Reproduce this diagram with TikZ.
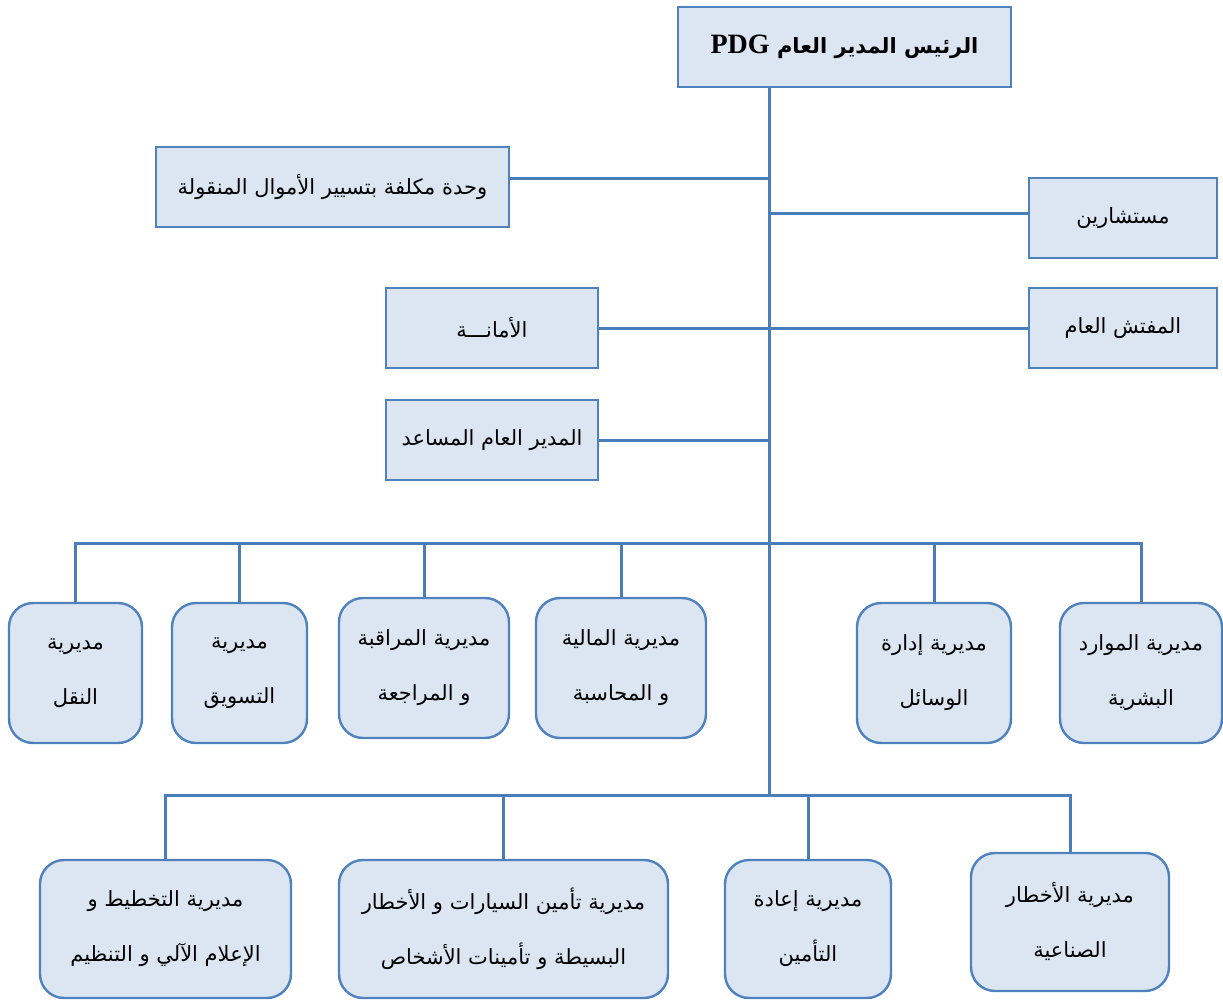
\documentclass[tikz,border=0pt]{standalone}
\usepackage{fontspec}
\usetikzlibrary{calc}
\TeXXeTstate=1
\newfontfamily\arabicfont[Script=Arabic]{DejaVu Sans}
\newfontfamily\latinfont{Liberation Serif}
\newcommand{\artxt}[1]{\beginR #1\endR}
\definecolor{boxfill}{HTML}{DCE6F2}
\definecolor{boxline}{HTML}{4F81BD}
\definecolor{wire}{HTML}{4A7EBB}

\begin{document}
\begin{tikzpicture}[x=0.5pt,y=-0.5pt,
    box/.style={draw=boxline,fill=boxfill,line width=1.2pt,inner sep=0pt,
        minimum height=40pt,align=center,
        font={\arabicfont\fontsize{10.5}{27.5}\selectfont}},
    dept/.style={box,rounded corners=12pt,minimum height=70pt},
    wires/.style={draw=wire,line width=1.5pt}]

        \useasboundingbox (0,0) rectangle (1223,1001);

        % top level
        \node[box,minimum width=166.5pt] (pdg)  at (844.5,47)
              {\bfseries\artxt{الرئيس المدير العام \beginL{\latinfont\fontsize{14}{16}\selectfont PDG}\endL}};
        \node[box,minimum width=176.5pt] (unit) at (332.5,187) {\artxt{وحدة مكلفة بتسيير الأموال المنقولة}};
        \node[box,minimum width=94pt]    (cons) at (1123,218)  {\artxt{مستشارين}};
        \node[box,minimum width=94pt]    (insp) at (1123,328)  {\artxt{المفتش العام}};
        \node[box,minimum width=106pt]   (secr) at (492,328)   {\artxt{الأمانـــة}};
        \node[box,minimum width=106pt]   (dga)  at (492,440)   {\artxt{المدير العام المساعد}};

        % directions, first row
        \node[dept,minimum width=66.5pt] (d1) at (75.5,673) {\artxt{مديرية}\\\artxt{النقل}};
        \node[dept,minimum width=67.5pt] (d2) at (239.5,673) {\artxt{مديرية}\\\artxt{التسويق}};
        \node[dept,minimum width=85pt]   (d3) at (424,668) {\artxt{مديرية المراقبة}\\\artxt{و المراجعة}};
        \node[dept,minimum width=85pt]   (d4) at (621,668) {\artxt{مديرية المالية}\\\artxt{و المحاسبة}};
        \node[dept,minimum width=77pt]   (d5) at (934,673) {\artxt{مديرية إدارة}\\\artxt{الوسائل}};
        \node[dept,minimum width=81pt]   (d6) at (1141,673) {\artxt{مديرية الموارد}\\\artxt{البشرية}};

        % directions, second row
        \node[dept,minimum width=125.5pt,minimum height=69pt] (e1) at (165.5,929)
              {\artxt{مديرية التخطيط و}\\\artxt{الإعلام الآلي و التنظيم}};
        \node[dept,minimum width=164.5pt,minimum height=69pt] (e2) at (503.5,929)
              {\artxt{مديرية تأمين السيارات و الأخطار}\\\artxt{البسيطة و تأمينات الأشخاص}};
        \node[dept,minimum width=83pt,minimum height=69pt]    (e3) at (808,929)
              {\artxt{مديرية إعادة}\\\artxt{التأمين}};
        \node[dept,minimum width=99pt,minimum height=69pt]    (e4) at (1070,922)
              {\artxt{مديرية الأخطار}\\\artxt{الصناعية}};

        \coordinate (bus1) at (769,543);
        \coordinate (bus2) at (769,795);

        \path[wires]
                  (pdg.south -| bus2)         edge (bus2)
                  ([yshift=4.5pt]unit.east)   edge ([yshift=4.5pt]unit.east -| bus2)
                  ([yshift=2.5pt]cons.west)   edge ([yshift=2.5pt]cons.west -| bus2)
                  (secr.east)                 edge (insp.west)
                  (dga.east)                  edge (dga.east -| bus2);

        \draw[wires] (d1.north) |- (bus1) -| (d6.north);
        \foreach \d in {d2,d3,d4,d5}
            \draw[wires] (\d.north) -- (\d.north |- bus1);

        \draw[wires] (e1.north) |- (bus2) -| (e4.north);
        \foreach \e in {e2,e3}
            \draw[wires] (\e.north) -- (\e.north |- bus2);
      \end{tikzpicture}
\end{document}
